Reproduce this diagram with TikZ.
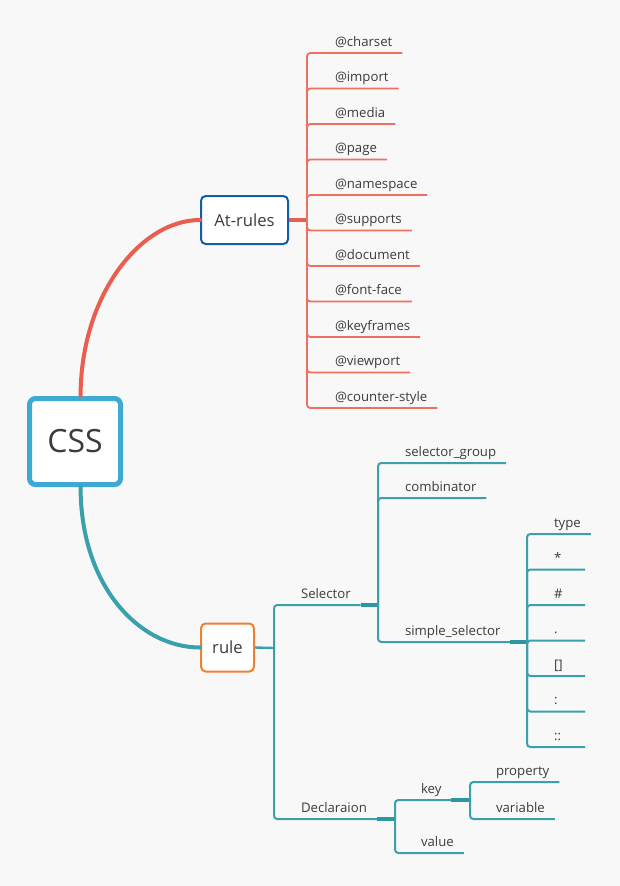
\documentclass[tikz,border=0pt]{standalone}
\usepackage{fontspec}
\setmainfont{Open Sans}
\definecolor{bgc}{RGB}{248,248,248}
\definecolor{atred}{RGB}{233,94,78}
\definecolor{atlight}{RGB}{238,112,98}
\definecolor{cssblue}{RGB}{62,170,210}
\definecolor{atblue}{RGB}{20,94,168}
\definecolor{ruleorange}{RGB}{238,128,50}
\definecolor{tealc}{RGB}{58,160,172}
\definecolor{tealdark}{RGB}{44,150,162}
\definecolor{txt}{RGB}{60,60,60}
\tikzset{
	topic/.style={
		rectangle,
		rounded corners=4.5pt,
		draw=cssblue, line width=3.75pt,
		fill=white,
		minimum width=68.25pt,
		minimum height=64.5pt,
		inner sep=0pt,
		text=txt,
		font=\fontsize{24}{28}\selectfont},
	branch/.style={
		rectangle,
		rounded corners=3.5pt,
		line width=1.5pt,
		fill=white,
		minimum height=36pt,
		inner sep=0pt,
		text=txt,
		font=\fontsize{12.5}{15}\selectfont},
	leaf/.style={
		anchor=south west,
		inner xsep=7.5pt, inner ysep=4.9pt,
		outer sep=0pt,
		text depth=0pt,
		text=txt,
		font=\fontsize{9.9}{12}\selectfont},
	symleaf/.style={leaf, text width=15.75pt},
	curve/.style={line width=3pt, line cap=round},
	atline/.style={draw=atlight, line width=1.4pt, rounded corners=2.5pt},
	tline/.style={draw=tealc, line width=1.5pt, rounded corners=2.5pt},
	stub/.style={draw=tealdark, line width=2.4pt},
}
\begin{document}
\begin{tikzpicture}
	[x=0.75pt, y=-0.75pt]
	\path[fill=bgc, use as bounding box] (0,0) rectangle (620,886);
	% main topics
	\node[topic] (css) at (75,441.5) {CSS};
	\node[branch, draw=atblue, minimum width=65.25pt] (atrules) at (244.5,220) {At-rules};
	\node[branch, draw=ruleorange, minimum width=39.75pt] (rule) at (227.5,647.5) {rule};
	\draw[curve, atred] (css.83) .. controls +(0,-100) and +(-60,0) .. (atrules.west);
	\draw[curve, tealc] (css.-83) .. controls +(0,100) and +(-60,0) .. (rule.west);
	
	% at-rules
	\coordinate (atj) at (307,220);
	\draw[atred, line width=2.4pt] (atrules.east) -- (atj);
	\node[leaf] (charset) at (325,53) {@charset};
	\node[leaf] (import) at (325,88.5) {@import};
	\node[leaf] (media) at (325,124) {@media};
	\node[leaf] (page) at (325,159.5) {@page};
	\node[leaf] (namespace) at (325,195) {@namespace};
	\node[leaf] (supports) at (325,230.5) {@supports};
	\node[leaf] (document) at (325,266) {@document};
	\node[leaf] (fontface) at (325,301.5) {@font-face};
	\node[leaf] (keyframes) at (325,337) {@keyframes};
	\node[leaf] (viewport) at (325,372.5) {@viewport};
	\node[leaf] (counterstyle) at (325,408) {@counter-style};
	\draw[atline] (atj) |- (charset.south east);
	\draw[atline] (atj) |- (import.south east);
	\draw[atline] (atj) |- (media.south east);
	\draw[atline] (atj) |- (page.south east);
	\draw[atline] (atj) |- (namespace.south east);
	\draw[atline] (atj) |- (supports.south east);
	\draw[atline] (atj) |- (document.south east);
	\draw[atline] (atj) |- (fontface.south east);
	\draw[atline] (atj) |- (keyframes.south east);
	\draw[atline] (atj) |- (viewport.south east);
	\draw[atline] (atj) |- (counterstyle.south east);
	
	% rule
	\coordinate (rulej) at (274,648);
	\draw[tealc, line width=1.8pt] (rule.east) -- (rulej);
	\node[leaf] (selector) at (291,605) {Selector};
	\node[leaf] (declaration) at (291,819) {Declaraion};
	\draw[tline] (rulej) |- (selector.south east);
	\draw[tline] (rulej) |- (declaration.south east);
	
	% selector
	\coordinate (selj) at (378,605);
	\draw[stub] (selector.south east) -- (selj);
	\node[leaf] (selgroup) at (395,463) {selector\_group};
	\node[leaf] (combinator) at (395,498) {combinator};
	\node[leaf] (simplesel) at (395,642) {simple\_selector};
	\draw[tline] (selj) |- (selgroup.south east);
	\draw[tline] (selj) |- (combinator.south east);
	\draw[tline] (selj) |- (simplesel.south east);
	
	% simple selector
	\coordinate (ssj) at (527,642);
	\draw[stub] (simplesel.south east) -- (ssj);
	\node[leaf] (type) at (544,534) {type};
	\node[symleaf] (star) at (544,569.5) {*};
	\node[symleaf] (hash) at (544,605) {\#};
	\node[symleaf] (dot) at (544,640.5) {.};
	\node[symleaf] (attr) at (544,676) {[]};
	\node[symleaf] (colon) at (544,711.5) {:};
	\node[symleaf] (dcolon) at (544,747) {::};
	\draw[tline] (ssj) |- (type.south east);
	\draw[tline] (ssj) |- (star.south east);
	\draw[tline] (ssj) |- (hash.south east);
	\draw[tline] (ssj) |- (dot.south east);
	\draw[tline] (ssj) |- (attr.south east);
	\draw[tline] (ssj) |- (colon.south east);
	\draw[tline] (ssj) |- (dcolon.south east);
	
	% declaration
	\coordinate (decj) at (395,819);
	\draw[stub] (declaration.south east) -- (decj);
	\node[leaf] (key) at (411,800) {key};
	\node[leaf] (value) at (411,853) {value};
	\draw[tline] (decj) |- (key.south east);
	\draw[tline] (decj) |- (value.south east);
	\coordinate (keyj) at (470,800);
	\draw[stub] (key.south east) -- (keyj);
	\node[leaf] (property) at (486,782) {property};
	\node[leaf] (variable) at (486,819) {variable};
	\draw[tline] (keyj) |- (property.south east);
	\draw[tline] (keyj) |- (variable.south east);
\end{tikzpicture}
\end{document}
